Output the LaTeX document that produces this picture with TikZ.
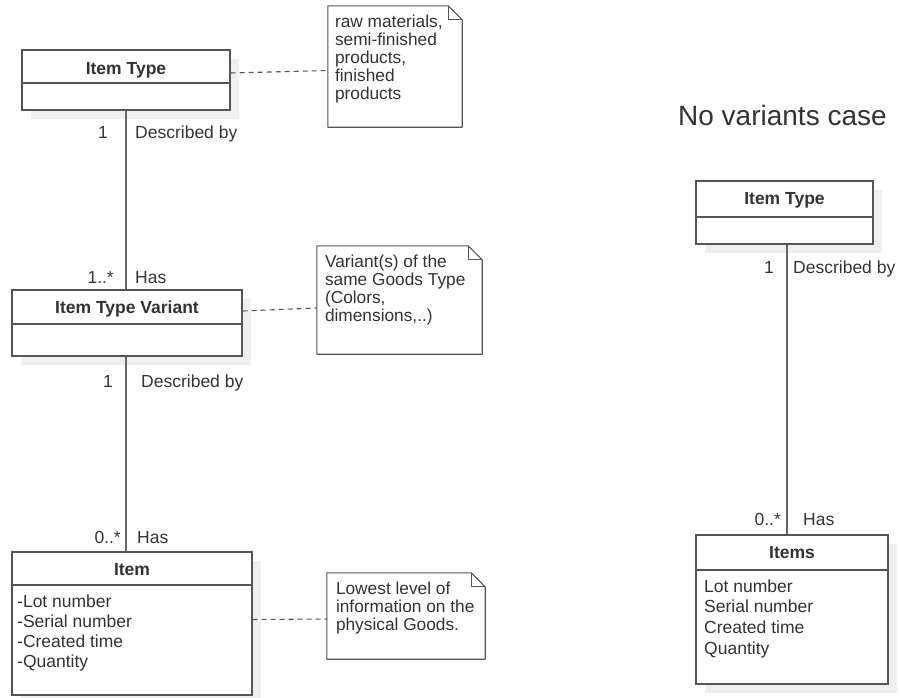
\documentclass[tikz,border=0pt]{standalone}
\usepackage{fontspec}
\setmainfont{Liberation Sans}
\usetikzlibrary{shadows}
\definecolor{edge}{HTML}{555555}
\definecolor{ink}{HTML}{333333}
\definecolor{shade}{HTML}{EFEFEF}
\definecolor{wire}{HTML}{666666}

\tikzset{
  classbox/.style={draw=edge, line width=1.1pt, fill=white, rectangle, inner sep=0pt,
    general shadow={fill=shade, shadow xshift=9pt, shadow yshift=-9pt}},
  divider/.style={draw=edge, line width=1.1pt},
  classtitle/.style={font=\bfseries\fontsize{17.5}{21}\selectfont, text=ink, inner sep=0pt, anchor=base},
  attr/.style={font=\fontsize{17.5}{21}\selectfont, text=ink, inner sep=0pt, anchor=base west},
  lbl/.style={font=\fontsize{17.5}{21}\selectfont, text=ink, inner sep=0pt},
  notebody/.style={rectangle, inner sep=0pt},
  noteline/.style={draw=edge, line width=1.1pt, fill=white, line join=round},
  notetext/.style={font=\fontsize{17.3}{18}\selectfont, text=ink, inner sep=0pt, align=left, anchor=north west},
  assoc/.style={draw=wire, line width=1.1pt},
  anchorline/.style={draw=edge, line width=1.1pt, dash pattern=on 5pt off 4pt},
}

\begin{document}
\begin{tikzpicture}[x=1pt, y=-1pt]
\useasboundingbox (0,0) rectangle (900,697);

% ---------- class boxes ----------
\node[classbox, minimum width=208pt, minimum height=60pt] (it1) at (126,80) {};
\draw[divider] (it1.west |- 0,83) -- (it1.east |- 0,83);
\node[classtitle] (it1title) at (126,74) {Item Type};

\node[classbox, minimum width=230pt, minimum height=66pt] (itv) at (127,323) {};
\draw[divider] (itv.west |- 0,324) -- (itv.east |- 0,324);
\node[classtitle] (itvtitle) at (127,313) {Item Type Variant};

\node[classbox, minimum width=240pt, minimum height=143pt] (item) at (132,623.5) {};
\draw[divider] (item.west |- 0,585) -- (item.east |- 0,585);
\node[classtitle] (itemtitle) at (132,575) {Item};
\foreach \t [count=\i] in {-Lot number,-Serial number,-Created time,-Quantity}
  \node[attr] (itemattr\i) at (17,{607+20.2*(\i-1)}) {\t};

\node[classbox, minimum width=177pt, minimum height=63pt] (it2) at (784.5,212.5) {};
\draw[divider] (it2.west |- 0,217) -- (it2.east |- 0,217);
\node[classtitle] (it2title) at (784.5,204) {Item Type};

\node[classbox, minimum width=192pt, minimum height=149pt] (items) at (792,609.5) {};
\draw[divider] (items.west |- 0,570) -- (items.east |- 0,570);
\node[classtitle] (itemstitle) at (792,558) {Items};
\foreach \t [count=\i] in {Lot number,Serial number,Created time,Quantity}
  \node[attr] (itemsattr\i) at (704,{592+20.7*(\i-1)}) {\t};

% ---------- notes ----------
\node[notebody, minimum width=134pt, minimum height=121pt] (note1) at (395,66.5) {};
\node[notebody, minimum width=165pt, minimum height=108pt] (note2) at (399.5,300) {};
\node[notebody, minimum width=158pt, minimum height=86pt] (note3) at (406,616) {};
\foreach \n in {note1,note2,note3}{
  \draw[noteline] (\n.north west) -- ([xshift=-14pt]\n.north east)
    -- ([yshift=-14pt]\n.north east) -- (\n.south east) -- (\n.south west) -- cycle;
  \draw[noteline, fill=none] ([xshift=-14pt]\n.north east)
    -- ([xshift=-14pt, yshift=-14pt]\n.north east) -- ([yshift=-14pt]\n.north east);
}
\node[notetext] (note1text) at ([xshift=7pt, yshift=-9pt]note1.north west)
  {raw materials,\\semi-finished\\products,\\finished\\products};
\node[notetext] (note2text) at ([xshift=8pt, yshift=-9pt]note2.north west)
  {Variant(s) of the\\same Goods Type\\(Colors,\\dimensions,..)};
\node[notetext] (note3text) at ([xshift=9pt, yshift=-9pt]note3.north west)
  {Lowest level of\\information on the\\physical Goods.};

% ---------- dashed note anchors ----------
\draw[anchorline] ([yshift=7pt]it1.east) -- ([yshift=-4pt]note1.west);
\draw[anchorline] ([yshift=12pt]itv.east) -- ([yshift=-8pt]note2.west);
\draw[anchorline] ([yshift=4pt]item.east) -- ([yshift=-3pt]note3.west);

% ---------- associations ----------
\draw[assoc] (it1.south) -- (it1.south |- itv.north);
\draw[assoc] (it1.south |- itv.south) -- (it1.south |- item.north);
\draw[assoc] ([xshift=2.5pt]it2.south) -- ([xshift=2.5pt]it2.south |- items.north);

% ---------- multiplicities and roles ----------
\node[lbl, anchor=base] (m1) at (103,138) {1};
\node[lbl, anchor=base west] (r1) at (135,138) {Described by};
\node[lbl, anchor=base east] (m2) at (114,283) {1..*};
\node[lbl, anchor=base west] (r2) at (135,283) {Has};
\node[lbl, anchor=base] (m3) at (108,387) {1};
\node[lbl, anchor=base west] (r3) at (141,387) {Described by};
\node[lbl, anchor=base east] (m4) at (121,543) {0..*};
\node[lbl, anchor=base west] (r4) at (137,543) {Has};

\node[lbl, anchor=base] (m5) at (769,273) {1};
\node[lbl, anchor=base west] (r5) at (793,273) {Described by};
\node[lbl, anchor=base east] (m6) at (781,525) {0..*};
\node[lbl, anchor=base west] (r6) at (803,525) {Has};

% ---------- heading ----------
\node[font=\fontsize{28}{32}\selectfont, text=ink, inner sep=0pt, anchor=base west] (heading) at (678,125) {No variants case};
\end{tikzpicture}
\end{document}
